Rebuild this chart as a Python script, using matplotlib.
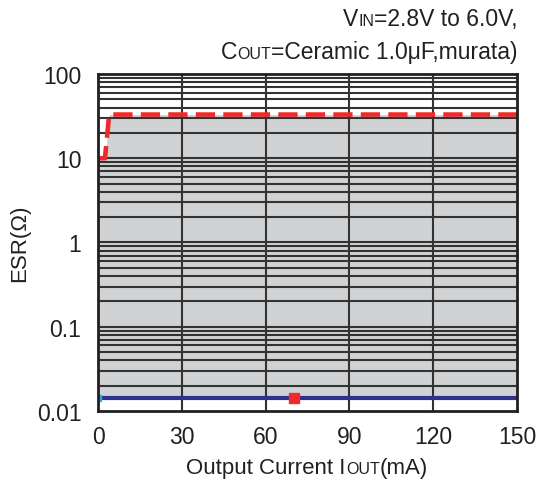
import matplotlib
matplotlib.use("Agg")
from matplotlib import pyplot as plt
from matplotlib.offsetbox import TextArea, HPacker, AnchoredOffsetbox
import numpy as np

plt.rcParams["font.family"] = ["Liberation Sans", "DejaVu Sans"]

# stable region boundaries (ESR vs output current)
upper_x = [0, 2.5, 4, 150]
upper_y = [10, 10, 33, 33]
lower_x = [0, 150]
lower_y = [0.0143, 0.0143]

# measured points on the lower boundary
pt_cyan = (0, 0.0143)
pt_red = (70, 0.0143)

xticks = [0, 30, 60, 90, 120, 150]
yticks = [0.01, 0.1, 1, 10, 100]
yticklabels = ["0.01", "0.1", "1", "10", "100"]

INK = "#231f20"

fig = plt.figure(figsize=(5.37, 4.85), dpi=100)
ax = fig.add_axes([0.1825, 0.1505, 0.7803, 0.6949])

ax.set_yscale("log")
ax.set_xlim(0, 150)
ax.set_ylim(0.01, 100)

# gray stable area
xs = np.array(upper_x, dtype=float)
ax.fill_between(xs, lower_y[0], upper_y, color="#d1d2d4", zorder=1, linewidth=0)

# grid: every minor decade step horizontally, 30mA vertically
for dec in [0.01, 0.1, 1, 10]:
    for m in range(1, 10):
        v = dec * m
        if 0.01 < v < 100:
            ax.axhline(v, color="#333333", linewidth=1.5, zorder=2)
for xv in xticks[1:-1]:
    ax.axvline(xv, color="#333333", linewidth=1.5, zorder=2)

ax.plot(lower_x, lower_y, color="#2e3192", linewidth=3, zorder=4)
ax.plot(upper_x, upper_y, color="#ee2a2a", linewidth=3.3,
        linestyle=(0, (4.2, 1.8)), zorder=4)
ax.plot(*pt_cyan, marker="s", markersize=5, color="#29abe2", zorder=5)
ax.plot(*pt_red, marker="s", markersize=7, color="#ee2a2a", zorder=5)

ax.set_xticks(xticks)
ax.set_xticklabels([str(v) for v in xticks])
ax.set_yticks(yticks)
ax.set_yticklabels(yticklabels)
ax.minorticks_off()
ax.tick_params(length=0, labelsize=16.5, colors=INK)
ax.tick_params(axis="y", pad=12)
ax.tick_params(axis="x", pad=10)
for s in ax.spines.values():
    s.set_linewidth(2)
    s.set_color(INK)
    s.set_zorder(6)

ax.set_ylabel("ESR(Ω)", fontsize=16, color=INK, labelpad=5)


def mixed(parts):
    # text pieces of different sizes sharing one baseline
    boxes = [TextArea(t, textprops=dict(fontsize=fs, color=INK)) for t, fs in parts]
    return HPacker(children=boxes, align="baseline", pad=0, sep=0)


xl = mixed([("Output Current I", 16), ("OUT", 11.5), ("(mA)", 16)])
fig.add_artist(AnchoredOffsetbox(loc="center", child=xl, frameon=False,
                                 bbox_to_anchor=(0.572, 0.035),
                                 bbox_transform=fig.transFigure, pad=0, borderpad=0))

t1 = mixed([("V", 16.5), ("IN", 11.5), ("=2.8V to 6.0V,", 16.5)])
t2 = mixed([("C", 16.5), ("OUT", 11.5), ("=Ceramic 1.0μF,murata)", 16.5)])
fig.add_artist(AnchoredOffsetbox(loc="upper right", child=t1, frameon=False,
                                 bbox_to_anchor=(0.964, 0.983),
                                 bbox_transform=fig.transFigure, pad=0, borderpad=0))
fig.add_artist(AnchoredOffsetbox(loc="upper right", child=t2, frameon=False,
                                 bbox_to_anchor=(0.964, 0.915),
                                 bbox_transform=fig.transFigure, pad=0, borderpad=0))

plt.savefig("out.png", dpi=100)
